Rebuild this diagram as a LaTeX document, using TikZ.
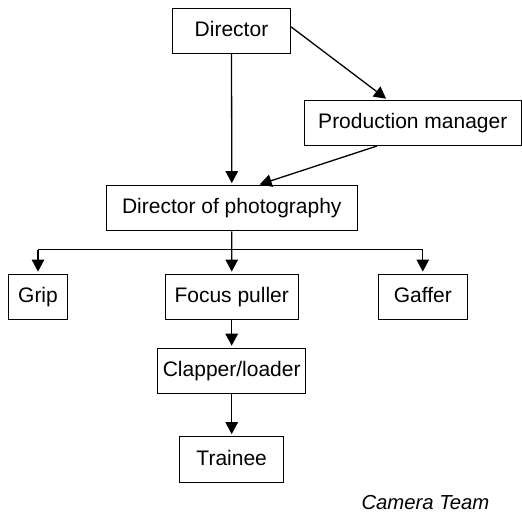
\documentclass[tikz,border=0pt]{standalone}
\usepackage{fontspec}
\setmainfont{Liberation Sans}
\usetikzlibrary{arrows.meta,calc}
\begin{document}
\begin{tikzpicture}[x=1pt,y=-1pt,
  every node/.style={font=\fontsize{21}{24}\selectfont},
  box/.style={draw,line width=1.2pt,minimum height=45pt,inner sep=0pt,
    text height=15.5pt,text depth=4.5pt},
  link/.style={line width=1.3pt,shorten >=2pt,-{Triangle[length=12pt,width=12.5pt]}}]
\useasboundingbox (0,0) rectangle (522,513);
\node[box,minimum width=118pt] (dir) at (231.5,31) {Director};
\node[box,minimum width=217pt,minimum height=45pt] (pm) at (412.8,123) {Production manager};
\node[box,minimum width=251pt] (dop) at (231.8,208.2) {Director of photography};
\node[box,minimum width=59pt] (grip) at (38,296.7) {Grip};
\node[box,minimum width=133pt] (focus) at (231.7,296.7) {Focus puller};
\node[box,minimum width=89pt] (gaffer) at (422.8,296.7) {Gaffer};
\node[box,minimum width=148pt] (clap) at (231.7,370.8) {Clapper/loader};
\node[box,minimum width=104pt,minimum height=45.5pt] (train) at (231.7,459.5) {Trainee};
\node[anchor=base west,font=\fontsize{20.3}{24}\selectfont\itshape] (cap) at (358,509) {Camera Team};
% reporting lines
\coordinate (pmin) at ($(pm.north west)+(84,0)$);
\coordinate (pmout) at ($(pm.south west)+(73,0)$);
\coordinate (dopin) at ($(dop.north west)+(152,0)$);
\coordinate (split) at ($(dop.south)+(0,18.3)$);
\draw[link] ($(dir.north east)+(0,19)$) -- (pmin);
\draw[link] (dir.south) -- (dop.north);
\draw[link] (pmout) -- (dopin);
\draw[link] (dop.south) -- (focus.north);
\draw[line width=1.3pt] (grip.north |- split) -- (gaffer.north |- split);
\draw[link] (grip.north |- split) -- (grip.north);
\draw[link] (gaffer.north |- split) -- (gaffer.north);
\draw[link] (focus.south) -- (clap.north);
\draw[link] (clap.south) -- (train.north);
\end{tikzpicture}
\end{document}
